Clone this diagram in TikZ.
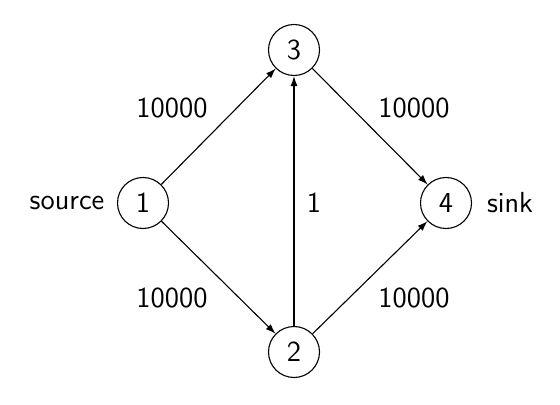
\documentclass[tikz,border=0pt]{standalone}
\usetikzlibrary{arrows.meta}
\begin{document}
\begin{tikzpicture}[x=0.5pt,y=-0.5pt,
  vert/.style={draw,circle,line width=0.55pt,minimum size=25.5pt,inner sep=0pt,font=\sffamily\fontsize{14.5}{17}\selectfont},
  lbl/.style={font=\sffamily\fontsize{14.5}{17}\selectfont,inner sep=0pt},
  edge/.style={-{Latex[length=5pt,width=3.5pt]},line width=0.55pt}]
\useasboundingbox (0,0) rectangle (560,405);
\node[vert] (n1) at (143,203) {1};
\node[vert] (n3) at (294,50) {3};
\node[vert] (n2) at (294,352) {2};
\node[vert] (n4) at (446,203) {4};
\node[lbl] (src) at (67,203) {source};
\node[lbl] (snk) at (510,203) {sink};
\node[lbl] (l13) at (172,108) {10000};
\node[lbl] (l12) at (172,298) {10000};
\node[lbl] (l34) at (414,108) {10000};
\node[lbl] (l24) at (414,298) {10000};
\node[lbl] (l23) at (314,203) {1};
\draw[edge] (n1) -- (n3);
\draw[edge] (n1) -- (n2);
\draw[edge] (n2) -- (n3);
\draw[edge] (n3) -- (n4);
\draw[edge] (n2) -- (n4);
\end{tikzpicture}
\end{document}
